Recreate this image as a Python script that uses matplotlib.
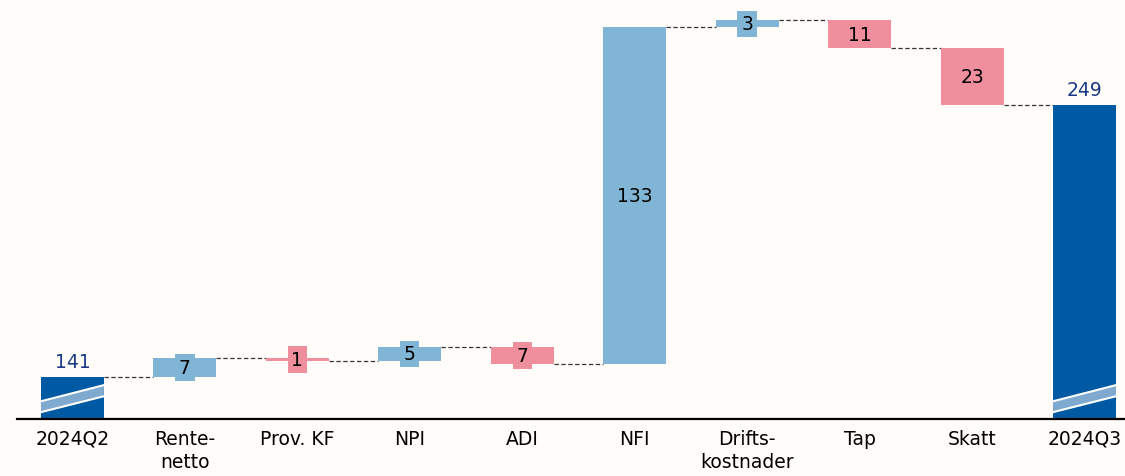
import numpy as np
import matplotlib.pyplot as plt

categories = ["2024Q2", "Rente-\nnetto", "Prov. KF", "NPI", "ADI", "NFI",
              "Drifts-\nkostnader", "Tap", "Skatt", "2024Q3"]
start = 141.2
changes = [7.3, -1.0, 5.4, -6.9, 133.4, 2.6, -10.7, -22.6]

pos_col = "#80b5d5"
neg_col = "#ef8e9c"
tot_col = "#005aa3"
bg = "#fffcf9"
ymin, ymax = 124.4, 290.5
w = 0.56

fig = plt.figure(figsize=(11.25, 4.77), dpi=100, facecolor=bg)
ax = fig.add_axes([0.015, 0.1195, 0.985, 0.8805], facecolor=bg)

levels = np.concatenate([[start], start + np.cumsum(changes)])
end = levels[-1]
x = np.arange(len(categories))

# totals
for xi, v in [(0, start), (len(categories) - 1, end)]:
    ax.bar(xi, v - ymin, bottom=ymin, width=w, color=tot_col, zorder=2)
    ax.annotate(f"{round(v)}", (xi, v), xytext=(0, 4), textcoords="offset points",
                ha="center", va="bottom", fontsize=13.5, color="#1a3a86")
    # axis break stripe
    xl, xr = xi - w / 2, xi + w / 2
    ax.fill([xl, xr, xr, xl], [127.1, 133.4, 137.8, 131.4], color="#80a9cf",
            lw=0, zorder=3)
    ax.plot([xl, xr], [127.1, 133.4], color="white", lw=1.5, zorder=4)
    ax.plot([xl, xr], [131.4, 137.8], color="white", lw=1.5, zorder=4)

# changes
for i, d in enumerate(changes):
    xi = i + 1
    lo = min(levels[i], levels[i + 1])
    c = pos_col if d > 0 else neg_col
    ax.bar(xi, abs(d), bottom=lo, width=w, color=c, zorder=2)
    ax.text(xi, lo + abs(d) / 2, f"{abs(round(d))}", ha="center", va="center",
            fontsize=13.5, color="black", zorder=5,
            bbox=dict(boxstyle="square,pad=0.2", fc=c, ec="none"))

# connectors
for i in range(len(categories) - 1):
    ax.plot([i + w / 2, i + 1 - w / 2], [levels[i], levels[i]], color="#333333",
            lw=0.9, ls=(0, (3.5, 2)), zorder=1)

ax.set_xlim(-0.494, 9.36)
ax.set_ylim(ymin, ymax)
ax.set_xticks(x)
ax.set_xticklabels(categories, fontsize=13.5, linespacing=1.3)
ax.tick_params(axis="x", length=0, pad=7)
ax.set_yticks([])
for s in ["top", "right", "left"]:
    ax.spines[s].set_visible(False)
ax.spines["bottom"].set_linewidth(1.6)
ax.spines["bottom"].set_zorder(6)

fig.savefig("out.png", dpi=100, facecolor=bg)
